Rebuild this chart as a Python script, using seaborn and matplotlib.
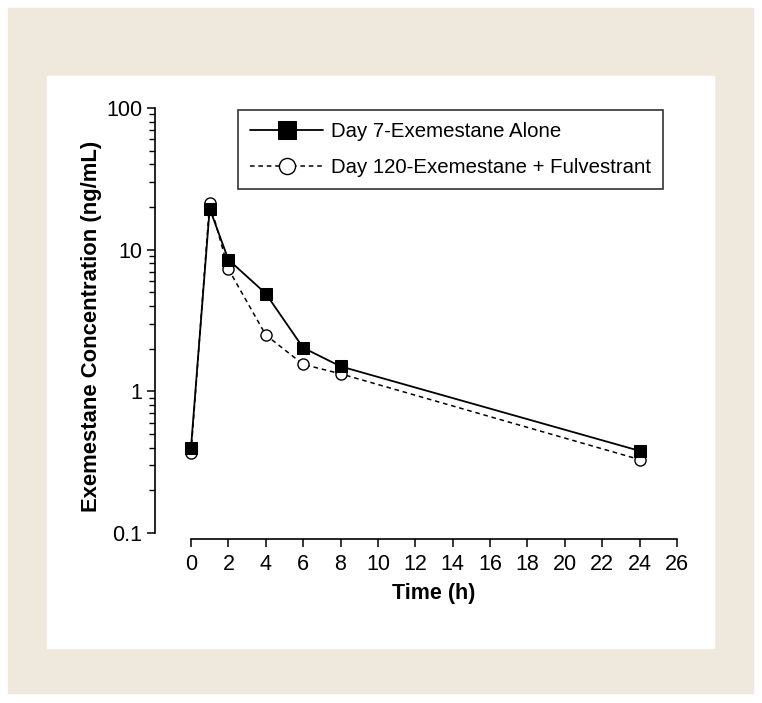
import matplotlib.pyplot as plt
import matplotlib.patches as mpatches
import matplotlib.ticker as mticker
import pandas as pd
import seaborn as sns

time_h = [0, 1, 2, 4, 6, 8, 24]
day7_alone = [0.40, 19.5, 8.5, 4.9, 2.03, 1.5, 0.38]
day120_fulv = [0.37, 21.5, 7.3, 2.5, 1.55, 1.33, 0.33]
labels = ["Day 7-Exemestane Alone", "Day 120-Exemestane + Fulvestrant"]
x_ticks = list(range(0, 27, 2))
y_ticks = [0.1, 1, 10, 100]
y_tick_labels = ["0.1", "1", "10", "100"]

sns.set_style("white")
plt.rcParams["font.family"] = ["Liberation Sans", "DejaVu Sans"]
plt.rcParams.update({"text.color": "black", "axes.labelcolor": "black",
                     "xtick.color": "black", "ytick.color": "black"})

df = pd.DataFrame({"time": time_h * 2,
                   "conc": day7_alone + day120_fulv,
                   "group": [labels[0]] * len(time_h) + [labels[1]] * len(time_h)})

fig = plt.figure(figsize=(7.62, 7.03), dpi=100)
fig.patch.set_facecolor("white")
# beige frame with white inner panel
fig.patches.append(mpatches.Rectangle((8 / 762, 1 - 693 / 703), 745 / 762, 685 / 703,
                                      transform=fig.transFigure, color="#EFE8DC", zorder=-10))
fig.patches.append(mpatches.Rectangle((47 / 762, 1 - 648 / 703), 667 / 762, 572 / 703,
                                      transform=fig.transFigure, color="white", zorder=-9))

ax = fig.add_axes([191 / 762, 1 - 533 / 703, 486 / 762, 425 / 703])
ax.set_facecolor("none")

sns.lineplot(data=df[df["group"] == labels[0]], x="time", y="conc", ax=ax,
             color="black", linewidth=1.3, marker="s", markersize=8.5,
             markerfacecolor="black", markeredgecolor="black", label=labels[0],
             clip_on=False, zorder=3)
sns.lineplot(data=df[df["group"] == labels[1]], x="time", y="conc", ax=ax,
             color="black", linewidth=1.1, linestyle=(0, (3, 2.5)), marker="o", markersize=8,
             markerfacecolor="white", markeredgecolor="black", markeredgewidth=1.0,
             label=labels[1], clip_on=False, zorder=2)

ax.set_yscale("log")
ax.set_ylim(0.1, 100)
ax.set_xlim(0, 26)
ax.set_xticks(x_ticks)
ax.set_yticks(y_ticks)
ax.set_yticklabels(y_tick_labels)
ax.yaxis.set_minor_locator(mticker.LogLocator(base=10, subs=range(2, 10)))
ax.yaxis.set_minor_formatter(mticker.NullFormatter())
ax.xaxis.set_minor_locator(mticker.NullLocator())
ax.tick_params(axis="both", which="major", direction="out", length=6, width=1.1,
               labelsize=15.5, left=True, bottom=True)
ax.tick_params(axis="y", which="major", pad=3)
ax.tick_params(axis="x", which="major", pad=5)
ax.tick_params(axis="y", which="minor", direction="out", length=4.5, width=1.0, left=True)

for side in ["top", "right"]:
    ax.spines[side].set_visible(False)
ax.spines["left"].set_position(("outward", 26))
ax.spines["bottom"].set_position(("outward", 4))
for side in ["left", "bottom"]:
    ax.spines[side].set_linewidth(1.2)
    ax.spines[side].set_color("black")

ax.set_xlabel("Time (h)", fontsize=15.5, fontweight="bold", labelpad=6)
ax.set_ylabel("Exemestane Concentration (ng/mL)", fontsize=15.8, fontweight="bold")
ax.yaxis.set_label_coords(-0.183, 0.487)

leg = ax.legend(loc="upper left", bbox_to_anchor=(0.097, 0.995), fontsize=14.7, frameon=True,
                fancybox=False, edgecolor="black", handlelength=3.6, borderpad=0.57,
                labelspacing=0.85, handletextpad=0.4, borderaxespad=0, markerscale=1.45)
leg.get_frame().set_linewidth(1.2)

fig.savefig("out.png", dpi=100)
